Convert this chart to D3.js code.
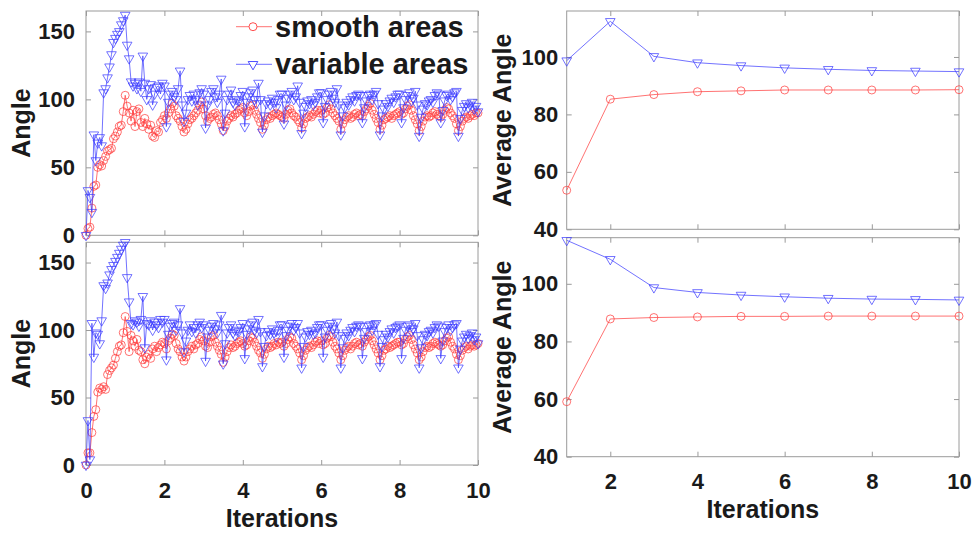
<!DOCTYPE html>
<html><head><meta charset="utf-8">
<script src="https://cdn.jsdelivr.net/npm/d3@7"></script>
<style>
body{margin:0;background:#fff}
text{font-family:"Liberation Sans",Arial,Helvetica,sans-serif;font-weight:bold;fill:#1a1a1a}
</style>
</head><body><svg id="c" width="974" height="533"></svg>
<script>
// ---------- data ----------
const pointsPerIteration = 20;
const smoothTop = [
  0, 5, 6, 20, 36, 37, 50, 52, 51, 55, 58, 62, 63, 64, 71, 73, 76, 80, 81, 91,
  103, 95, 90, 84, 92, 80, 91, 93, 83, 80, 86, 82, 78, 81, 73, 72, 77, 76, 83, 85,
  88, 86, 90, 93, 97, 95, 88, 86, 84, 80, 76, 78, 82, 85, 86, 88, 90, 92, 96, 98,
  93, 88, 84, 86, 87, 89, 90, 88, 85, 82, 77, 80, 84, 86, 88, 87, 89, 90, 92, 93,
  94, 90, 88, 91, 95, 96, 92, 89, 86, 83, 78, 81, 85, 87, 86, 88, 89, 90, 89, 88,
  87, 86, 89, 92, 93, 90, 88, 87, 85, 83, 79, 82, 86, 87, 88, 87, 89, 91, 92, 90,
  92, 89, 90, 94, 96, 93, 90, 88, 86, 84, 78, 82, 85, 87, 88, 86, 87, 89, 90, 88,
  89, 88, 91, 93, 95, 97, 92, 89, 86, 83, 78, 81, 85, 86, 87, 88, 86, 88, 89, 90,
  91, 89, 90, 93, 95, 96, 92, 88, 85, 82, 77, 80, 84, 87, 88, 87, 88, 90, 91, 89,
  88, 87, 89, 92, 94, 93, 90, 88, 86, 82, 77, 80, 84, 86, 87, 86, 88, 89, 88, 90,
  90];
const variableTop = [
  0, 33, 28, 17, 74, 55, 68, 72, 66, 105, 108, 116, 124, 133, 142, 145, 148, 150, 155, 158,
  162, 140, 130, 113, 110, 112, 108, 113, 106, 132, 112, 100, 108, 111, 96, 104, 109, 110, 104, 112,
  110, 80, 98, 104, 106, 102, 100, 108, 121, 96, 84, 90, 100, 103, 99, 104, 100, 96, 105, 108,
  104, 79, 96, 100, 106, 108, 102, 98, 104, 115, 77, 90, 100, 104, 107, 98, 96, 100, 99, 103,
  106, 80, 98, 102, 105, 107, 100, 97, 112, 100, 76, 88, 97, 99, 96, 101, 98, 94, 100, 104,
  104, 82, 96, 101, 104, 106, 100, 102, 110, 98, 75, 90, 95, 99, 97, 100, 96, 98, 102, 105,
  105, 83, 95, 100, 104, 106, 101, 98, 108, 96, 74, 88, 94, 98, 96, 100, 102, 99, 103, 104,
  103, 83, 94, 99, 103, 104, 100, 104, 106, 97, 74, 88, 93, 97, 95, 99, 101, 98, 102, 104,
  104, 83, 94, 100, 103, 105, 99, 101, 106, 96, 73, 87, 93, 97, 96, 99, 100, 98, 103, 105,
  104, 83, 92, 99, 103, 104, 100, 102, 105, 106, 73, 86, 92, 95, 97, 94, 96, 98, 93, 95,
  91];
const smoothBottom = [
  0, 9, 9, 24, 36, 41, 54, 57, 56, 58, 56, 67, 70, 72, 74, 79, 84, 88, 89, 98,
  110, 99, 84, 96, 92, 88, 93, 85, 84, 78, 75, 80, 82, 79, 86, 88, 84, 87, 89, 91,
  90, 86, 92, 94, 97, 96, 90, 86, 84, 80, 77, 80, 84, 86, 88, 86, 89, 90, 93, 95,
  92, 88, 87, 91, 95, 96, 91, 88, 85, 82, 76, 80, 84, 87, 89, 87, 88, 90, 91, 92,
  90, 88, 89, 92, 95, 94, 91, 88, 85, 83, 79, 82, 86, 88, 87, 88, 90, 89, 91, 90,
  91, 88, 90, 93, 95, 94, 90, 88, 86, 83, 78, 81, 85, 87, 88, 87, 89, 91, 92, 90,
  92, 89, 90, 94, 96, 95, 91, 88, 86, 83, 78, 81, 85, 87, 88, 86, 88, 90, 91, 89,
  90, 88, 91, 93, 95, 96, 92, 89, 86, 83, 78, 81, 85, 86, 88, 87, 88, 89, 90, 91,
  91, 89, 90, 93, 95, 96, 93, 89, 86, 83, 78, 80, 84, 87, 88, 87, 88, 90, 91, 90,
  89, 88, 89, 92, 94, 95, 91, 88, 86, 82, 78, 81, 85, 87, 88, 86, 88, 89, 88, 89,
  90];
const variableBottom = [
  0, 33, 4, 105, 80, 98, 97, 90, 107, 133, 131, 135, 141, 145, 148, 151, 154, 157, 160, 163,
  165, 139, 121, 105, 104, 107, 106, 103, 108, 125, 87, 105, 104, 107, 100, 106, 104, 102, 108, 106,
  108, 78, 97, 103, 105, 106, 100, 104, 116, 98, 84, 92, 100, 104, 99, 102, 98, 104, 106, 102,
  104, 77, 95, 100, 103, 105, 101, 98, 104, 111, 75, 90, 98, 102, 104, 98, 96, 100, 99, 102,
  105, 79, 97, 101, 104, 106, 100, 98, 108, 99, 73, 88, 96, 99, 97, 101, 98, 95, 100, 104,
  104, 80, 96, 100, 103, 105, 100, 102, 105, 98, 72, 88, 95, 99, 97, 100, 97, 98, 102, 104,
  104, 80, 95, 100, 103, 105, 101, 98, 106, 96, 72, 87, 94, 98, 96, 100, 102, 99, 103, 104,
  103, 79, 94, 99, 103, 104, 100, 104, 105, 97, 73, 88, 93, 97, 95, 99, 101, 98, 102, 103,
  104, 79, 94, 100, 103, 104, 99, 101, 105, 96, 72, 87, 93, 97, 96, 99, 100, 98, 102, 104,
  103, 79, 92, 99, 102, 104, 100, 102, 104, 105, 72, 86, 92, 95, 97, 94, 96, 98, 93, 95,
  90];
const avgIterations = [1, 2, 3, 4, 5, 6, 7, 8, 9, 10];
const avgSmoothTop = [53.6, 85.3, 86.9, 87.9, 88.2, 88.5, 88.5, 88.5, 88.5, 88.6];
const avgVariableTop = [98.7, 112.4, 100.2, 98.0, 97.0, 96.2, 95.7, 95.3, 95.1, 94.9];
const avgSmoothBottom = [59.1, 87.8, 88.3, 88.5, 88.7, 88.7, 88.8, 88.8, 88.8, 88.8];
const avgVariableBottom = [115.1, 108.5, 98.7, 97.0, 96.1, 95.5, 95.0, 94.7, 94.6, 94.4];
const leftXTicks = [0, 2, 4, 6, 8, 10];
const leftYTicks = [0, 50, 100, 150];
const rightXTicks = [2, 4, 6, 8, 10];
const rightYTicks = [40, 60, 80, 100];
const seriesNames = ["smooth areas", "variable areas"];

// ---------- drawing ----------
const RED = "#ff3b3b", BLUE = "#3b3bff";
const svg = d3.select("#c");
const iterX = arr => arr.map((v, i) => i / pointsPerIteration);

const panels = [
  {l:86, r:478, t:11, b:235.3, xd:[0,10], yd:[0,165], xt:leftXTicks, yt:leftYTicks, xs:iterX(smoothTop), s:smoothTop, v:variableTop, ylab:"Angle", xlab:false, labX:30, yPad:11},
  {l:86, r:478, t:242.3, b:465, xd:[0,10], yd:[0,165], xt:leftXTicks, yt:leftYTicks, xs:iterX(smoothBottom), s:smoothBottom, v:variableBottom, ylab:"Angle", xlab:true, labX:30, xlabY:527, yPad:11},
  {l:566.7, r:959, t:11, b:229.3, xd:[1,10], yd:[40,116], xt:rightXTicks, yt:rightYTicks, xs:avgIterations, s:avgSmoothTop, v:avgVariableTop, ylab:"Average Angle", xlab:false, labX:511, yPad:8.5},
  {l:566.7, r:959, t:237.7, b:456.7, xd:[1,10], yd:[40,116], xt:rightXTicks, yt:rightYTicks, xs:avgIterations, s:avgSmoothBottom, v:avgVariableBottom, ylab:"Average Angle", xlab:true, labX:511, xlabY:518, yPad:8.5}
];

const tri = d3.symbol().type(d3.symbolTriangle).size(40);
const AX = "#9a9a9a";

panels.forEach(p => {
  const x = d3.scaleLinear().domain(p.xd).range([p.l, p.r]);
  const y = d3.scaleLinear().domain(p.yd).range([p.b, p.t]);
  const g = svg.append("g");

  g.append("rect").attr("x", p.l).attr("y", p.t).attr("width", p.r - p.l).attr("height", p.b - p.t)
    .attr("fill", "none").attr("stroke", AX).attr("stroke-width", 1);

  const styleAxis = (sel, showLabels) => {
    sel.select(".domain").remove();
    sel.selectAll(".tick line").attr("stroke", AX);
    sel.selectAll(".tick text").style("font-size", "22px").attr("fill", "#1a1a1a");
    if (!showLabels) sel.selectAll(".tick text").remove();
  };
  g.append("g").attr("transform", `translate(0,${p.b})`)
    .call(d3.axisBottom(x).tickValues(p.xt).tickSize(-5).tickPadding(17).tickFormat(d3.format("d")))
    .call(s => styleAxis(s, p.xlab));
  g.append("g").attr("transform", `translate(0,${p.t})`)
    .call(d3.axisTop(x).tickValues(p.xt).tickSize(-5))
    .call(s => styleAxis(s, false));
  g.append("g").attr("transform", `translate(${p.l},0)`)
    .call(d3.axisLeft(y).tickValues(p.yt).tickSize(-5).tickPadding(p.yPad).tickFormat(d3.format("d")))
    .call(s => styleAxis(s, true));
  g.append("g").attr("transform", `translate(${p.r},0)`)
    .call(d3.axisRight(y).tickValues(p.yt).tickSize(-5))
    .call(s => styleAxis(s, false));

  const line = d3.line().x((d, i) => x(p.xs[i])).y(d => y(d));
  [[p.s, RED, "c"], [p.v, BLUE, "t"]].forEach(([vals, col, mk]) => {
    g.append("path").datum(vals).attr("d", line).attr("fill", "none")
      .attr("stroke", col).attr("stroke-width", 0.9).attr("stroke-opacity", 0.8);
    const m = g.append("g");
    if (mk === "c") {
      m.selectAll("circle").data(vals).join("circle")
        .attr("cx", (d, i) => x(p.xs[i])).attr("cy", d => y(d)).attr("r", 4)
        .attr("fill", "none").attr("stroke", col).attr("stroke-width", 0.9).attr("stroke-opacity", 0.8);
    } else {
      m.selectAll("path").data(vals).join("path")
        .attr("d", tri).attr("transform", (d, i) => `translate(${x(p.xs[i])},${y(d)}) rotate(180)`)
        .attr("fill", "none").attr("stroke", col).attr("stroke-width", 0.9).attr("stroke-opacity", 0.8);
    }
  });

  svg.append("text").attr("transform", `translate(${p.labX},${(p.t + p.b) / 2}) rotate(-90)`)
    .attr("text-anchor", "middle").style("font-size", "25px").text(p.ylab);
  if (p.xlab) {
    svg.append("text").attr("x", (p.l + p.r) / 2).attr("y", p.xlabY)
      .attr("text-anchor", "middle").style("font-size", "25px").text("Iterations");
  }
});

// legend (top-left panel)
const leg = svg.append("g");
[[seriesNames[0], RED, "c", 26.7], [seriesNames[1], BLUE, "t", 64.3]].forEach(([name, col, mk, ly]) => {
  leg.append("line").attr("x1", 236).attr("x2", 272).attr("y1", ly).attr("y2", ly)
    .attr("stroke", col).attr("stroke-width", 0.9).attr("stroke-opacity", 0.8);
  if (mk === "c") {
    leg.append("circle").attr("cx", 253).attr("cy", ly).attr("r", 4).attr("fill", "#fff")
      .attr("stroke", col).attr("stroke-width", 0.9);
  } else {
    leg.append("path").attr("d", tri).attr("transform", `translate(253,${ly}) rotate(180)`)
      .attr("fill", "#fff").attr("stroke", col).attr("stroke-width", 0.9);
  }
  leg.append("text").attr("x", 275).attr("y", ly + 10).style("font-size", "29px").attr("fill", "#000").text(name);
});
</script>
</body></html>
